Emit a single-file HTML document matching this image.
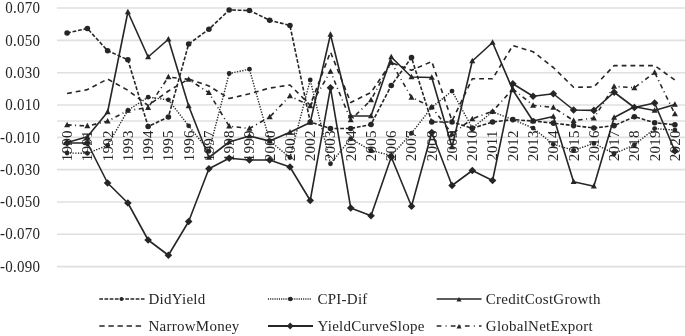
<!DOCTYPE html>
<html><head><meta charset="utf-8"><style>
html,body{margin:0;padding:0;background:#fff;}
body{width:685px;height:336px;overflow:hidden;position:relative;}
svg{position:absolute;left:0;top:0;filter:grayscale(1);}
text{font-family:"Liberation Serif",serif;fill:#262626;letter-spacing:0.25px;}
</style></head><body>
<svg width="685" height="336" viewBox="0 0 685 336">

<line x1="57" y1="8.05" x2="685" y2="8.05" stroke="#e0e0e0" stroke-width="1.6"/>
<line x1="57" y1="40.37" x2="685" y2="40.37" stroke="#e0e0e0" stroke-width="1.6"/>
<line x1="57" y1="72.69" x2="685" y2="72.69" stroke="#e0e0e0" stroke-width="1.6"/>
<line x1="57" y1="105.01" x2="685" y2="105.01" stroke="#e0e0e0" stroke-width="1.6"/>
<line x1="57" y1="137.33" x2="685" y2="137.33" stroke="#e0e0e0" stroke-width="1.6"/>
<line x1="57" y1="169.65" x2="685" y2="169.65" stroke="#e0e0e0" stroke-width="1.6"/>
<line x1="57" y1="201.97" x2="685" y2="201.97" stroke="#e0e0e0" stroke-width="1.6"/>
<line x1="57" y1="234.29" x2="685" y2="234.29" stroke="#e0e0e0" stroke-width="1.6"/>
<line x1="57" y1="266.61" x2="685" y2="266.61" stroke="#e0e0e0" stroke-width="1.6"/>
<line x1="57" y1="121.00" x2="685" y2="121.00" stroke="#e0e0e0" stroke-width="1.6"/>
<text transform="translate(40.3 13.25) scale(1 1.06)" font-size="15" text-anchor="end" letter-spacing="0.12">0.070</text>
<text transform="translate(40.3 45.57) scale(1 1.06)" font-size="15" text-anchor="end" letter-spacing="0.12">0.050</text>
<text transform="translate(40.3 77.89) scale(1 1.06)" font-size="15" text-anchor="end" letter-spacing="0.12">0.030</text>
<text transform="translate(40.3 110.21) scale(1 1.06)" font-size="15" text-anchor="end" letter-spacing="0.12">0.010</text>
<text transform="translate(40.3 142.53) scale(1 1.06)" font-size="15" text-anchor="end" letter-spacing="0.12">-0.010</text>
<text transform="translate(40.3 174.85) scale(1 1.06)" font-size="15" text-anchor="end" letter-spacing="0.12">-0.030</text>
<text transform="translate(40.3 207.17) scale(1 1.06)" font-size="15" text-anchor="end" letter-spacing="0.12">-0.050</text>
<text transform="translate(40.3 239.49) scale(1 1.06)" font-size="15" text-anchor="end" letter-spacing="0.12">-0.070</text>
<text transform="translate(40.3 271.81) scale(1 1.06)" font-size="15" text-anchor="end" letter-spacing="0.12">-0.090</text>
<text transform="translate(72.00 130.30) rotate(-90) scale(1 1.02)" font-size="15" text-anchor="end" letter-spacing="0">1990</text>
<text transform="translate(92.26 130.30) rotate(-90) scale(1 1.02)" font-size="15" text-anchor="end" letter-spacing="0">1991</text>
<text transform="translate(112.52 130.30) rotate(-90) scale(1 1.02)" font-size="15" text-anchor="end" letter-spacing="0">1992</text>
<text transform="translate(132.78 130.30) rotate(-90) scale(1 1.02)" font-size="15" text-anchor="end" letter-spacing="0">1993</text>
<text transform="translate(153.04 130.30) rotate(-90) scale(1 1.02)" font-size="15" text-anchor="end" letter-spacing="0">1994</text>
<text transform="translate(173.30 130.30) rotate(-90) scale(1 1.02)" font-size="15" text-anchor="end" letter-spacing="0">1995</text>
<text transform="translate(193.56 130.30) rotate(-90) scale(1 1.02)" font-size="15" text-anchor="end" letter-spacing="0">1996</text>
<text transform="translate(213.82 130.30) rotate(-90) scale(1 1.02)" font-size="15" text-anchor="end" letter-spacing="0">1997</text>
<text transform="translate(234.08 130.30) rotate(-90) scale(1 1.02)" font-size="15" text-anchor="end" letter-spacing="0">1998</text>
<text transform="translate(254.34 130.30) rotate(-90) scale(1 1.02)" font-size="15" text-anchor="end" letter-spacing="0">1999</text>
<text transform="translate(274.60 130.30) rotate(-90) scale(1 1.02)" font-size="15" text-anchor="end" letter-spacing="0">2000</text>
<text transform="translate(294.86 130.30) rotate(-90) scale(1 1.02)" font-size="15" text-anchor="end" letter-spacing="0">2001</text>
<text transform="translate(315.12 130.30) rotate(-90) scale(1 1.02)" font-size="15" text-anchor="end" letter-spacing="0">2002</text>
<text transform="translate(335.38 130.30) rotate(-90) scale(1 1.02)" font-size="15" text-anchor="end" letter-spacing="0">2003</text>
<text transform="translate(355.64 130.30) rotate(-90) scale(1 1.02)" font-size="15" text-anchor="end" letter-spacing="0">2004</text>
<text transform="translate(375.90 130.30) rotate(-90) scale(1 1.02)" font-size="15" text-anchor="end" letter-spacing="0">2005</text>
<text transform="translate(396.16 130.30) rotate(-90) scale(1 1.02)" font-size="15" text-anchor="end" letter-spacing="0">2006</text>
<text transform="translate(416.42 130.30) rotate(-90) scale(1 1.02)" font-size="15" text-anchor="end" letter-spacing="0">2007</text>
<text transform="translate(436.68 130.30) rotate(-90) scale(1 1.02)" font-size="15" text-anchor="end" letter-spacing="0">2008</text>
<text transform="translate(456.94 130.30) rotate(-90) scale(1 1.02)" font-size="15" text-anchor="end" letter-spacing="0">2009</text>
<text transform="translate(477.20 130.30) rotate(-90) scale(1 1.02)" font-size="15" text-anchor="end" letter-spacing="0">2010</text>
<text transform="translate(497.46 130.30) rotate(-90) scale(1 1.02)" font-size="15" text-anchor="end" letter-spacing="0">2011</text>
<text transform="translate(517.72 130.30) rotate(-90) scale(1 1.02)" font-size="15" text-anchor="end" letter-spacing="0">2012</text>
<text transform="translate(537.98 130.30) rotate(-90) scale(1 1.02)" font-size="15" text-anchor="end" letter-spacing="0">2013</text>
<text transform="translate(558.24 130.30) rotate(-90) scale(1 1.02)" font-size="15" text-anchor="end" letter-spacing="0">2014</text>
<text transform="translate(578.50 130.30) rotate(-90) scale(1 1.02)" font-size="15" text-anchor="end" letter-spacing="0">2015</text>
<text transform="translate(598.76 130.30) rotate(-90) scale(1 1.02)" font-size="15" text-anchor="end" letter-spacing="0">2016</text>
<text transform="translate(619.02 130.30) rotate(-90) scale(1 1.02)" font-size="15" text-anchor="end" letter-spacing="0">2017</text>
<text transform="translate(639.28 130.30) rotate(-90) scale(1 1.02)" font-size="15" text-anchor="end" letter-spacing="0">2018</text>
<text transform="translate(659.54 130.30) rotate(-90) scale(1 1.02)" font-size="15" text-anchor="end" letter-spacing="0">2019</text>
<text transform="translate(679.80 130.30) rotate(-90) scale(1 1.02)" font-size="15" text-anchor="end" letter-spacing="0">2020</text>
<polyline points="67.10,33.00 87.36,28.50 107.62,50.75 127.88,59.75 148.14,126.50 168.40,117.00 188.66,44.00 208.92,29.25 229.18,10.00 249.44,10.50 269.70,20.25 289.96,25.50 310.22,122.00 330.48,128.50 350.74,128.50 371.00,124.50 391.26,85.50 411.52,57.50 431.78,122.00 452.04,122.00 472.30,128.30 492.56,122.00 512.82,119.60 533.08,121.00 553.34,123.10 573.60,125.60 593.86,128.00 614.12,125.60 634.38,116.70 654.64,122.70 674.90,124.80" fill="none" stroke="#262626" stroke-width="1.60" stroke-linejoin="round" stroke-dasharray="3.8 1.8"/>
<g fill="#262626"><circle cx="67.10" cy="33.00" r="2.80"/><circle cx="87.36" cy="28.50" r="2.80"/><circle cx="107.62" cy="50.75" r="2.80"/><circle cx="127.88" cy="59.75" r="2.80"/><circle cx="148.14" cy="126.50" r="2.80"/><circle cx="168.40" cy="117.00" r="2.80"/><circle cx="188.66" cy="44.00" r="2.80"/><circle cx="208.92" cy="29.25" r="2.80"/><circle cx="229.18" cy="10.00" r="2.80"/><circle cx="249.44" cy="10.50" r="2.80"/><circle cx="269.70" cy="20.25" r="2.80"/><circle cx="289.96" cy="25.50" r="2.80"/><circle cx="310.22" cy="122.00" r="2.80"/><circle cx="330.48" cy="128.50" r="2.80"/><circle cx="350.74" cy="128.50" r="2.80"/><circle cx="371.00" cy="124.50" r="2.80"/><circle cx="391.26" cy="85.50" r="2.80"/><circle cx="411.52" cy="57.50" r="2.80"/><circle cx="431.78" cy="122.00" r="2.80"/><circle cx="452.04" cy="122.00" r="2.80"/><circle cx="472.30" cy="128.30" r="2.80"/><circle cx="492.56" cy="122.00" r="2.80"/><circle cx="512.82" cy="119.60" r="2.80"/><circle cx="533.08" cy="121.00" r="2.80"/><circle cx="553.34" cy="123.10" r="2.80"/><circle cx="573.60" cy="125.60" r="2.80"/><circle cx="593.86" cy="128.00" r="2.80"/><circle cx="614.12" cy="125.60" r="2.80"/><circle cx="634.38" cy="116.70" r="2.80"/><circle cx="654.64" cy="122.70" r="2.80"/><circle cx="674.90" cy="124.80" r="2.80"/></g>
<polyline points="67.10,153.00 87.36,153.30 107.62,145.30 127.88,110.30 148.14,97.20 168.40,99.80 188.66,125.80 208.92,151.25 229.18,73.50 249.44,69.20 269.70,141.00 289.96,157.50 310.22,80.00 330.48,163.75 350.74,138.75 371.00,150.50 391.26,155.50 411.52,133.25 431.78,107.30 452.04,91.10 472.30,128.00 492.56,111.80 512.82,119.60 533.08,128.10 553.34,144.30 573.60,150.30 593.86,143.40 614.12,153.75 634.38,144.90 654.64,128.60 674.90,130.10" fill="none" stroke="#262626" stroke-width="1.4" stroke-linejoin="round" stroke-dasharray="1.3 1.4"/>
<g fill="#262626"><circle cx="67.10" cy="153.00" r="2.40"/><circle cx="87.36" cy="153.30" r="2.40"/><circle cx="107.62" cy="145.30" r="2.40"/><circle cx="127.88" cy="110.30" r="2.40"/><circle cx="148.14" cy="97.20" r="2.40"/><circle cx="168.40" cy="99.80" r="2.40"/><circle cx="188.66" cy="125.80" r="2.40"/><circle cx="208.92" cy="151.25" r="2.40"/><circle cx="229.18" cy="73.50" r="2.40"/><circle cx="249.44" cy="69.20" r="2.40"/><circle cx="269.70" cy="141.00" r="2.40"/><circle cx="289.96" cy="157.50" r="2.40"/><circle cx="310.22" cy="80.00" r="2.40"/><circle cx="330.48" cy="163.75" r="2.40"/><circle cx="350.74" cy="138.75" r="2.40"/><circle cx="371.00" cy="150.50" r="2.40"/><circle cx="391.26" cy="155.50" r="2.40"/><circle cx="411.52" cy="133.25" r="2.40"/><circle cx="431.78" cy="107.30" r="2.40"/><circle cx="452.04" cy="91.10" r="2.40"/><circle cx="472.30" cy="128.00" r="2.40"/><circle cx="492.56" cy="111.80" r="2.40"/><circle cx="512.82" cy="119.60" r="2.40"/><circle cx="533.08" cy="128.10" r="2.40"/><circle cx="553.34" cy="144.30" r="2.40"/><circle cx="573.60" cy="150.30" r="2.40"/><circle cx="593.86" cy="143.40" r="2.40"/><circle cx="614.12" cy="153.75" r="2.40"/><circle cx="634.38" cy="144.90" r="2.40"/><circle cx="654.64" cy="128.60" r="2.40"/><circle cx="674.90" cy="130.10" r="2.40"/></g>
<polyline points="67.10,142.40 87.36,136.75 107.62,112.00 127.88,12.00 148.14,57.00 168.40,39.25 188.66,106.00 208.92,157.50 229.18,142.00 249.44,136.00 269.70,141.10 289.96,132.20 310.22,122.50 330.48,34.50 350.74,116.00 371.00,116.00 391.26,57.00 411.52,77.00 431.78,77.50 452.04,147.00 472.30,61.00 492.56,42.50 512.82,90.00 533.08,121.00 553.34,116.50 573.60,181.75 593.86,186.25 614.12,117.50 634.38,106.70 654.64,110.50 674.90,104.50" fill="none" stroke="#262626" stroke-width="1.60" stroke-linejoin="round"/>
<g fill="#262626"><path d="M67.10 139.25L70.10 144.76L64.10 144.76Z"/><path d="M87.36 133.60L90.36 139.11L84.36 139.11Z"/><path d="M107.62 108.85L110.62 114.36L104.62 114.36Z"/><path d="M127.88 8.85L130.88 14.36L124.88 14.36Z"/><path d="M148.14 53.85L151.14 59.36L145.14 59.36Z"/><path d="M168.40 36.10L171.40 41.61L165.40 41.61Z"/><path d="M188.66 102.85L191.66 108.36L185.66 108.36Z"/><path d="M208.92 154.35L211.92 159.86L205.92 159.86Z"/><path d="M229.18 138.85L232.18 144.36L226.18 144.36Z"/><path d="M249.44 132.85L252.44 138.36L246.44 138.36Z"/><path d="M269.70 137.95L272.70 143.46L266.70 143.46Z"/><path d="M289.96 129.05L292.96 134.56L286.96 134.56Z"/><path d="M310.22 119.35L313.22 124.86L307.22 124.86Z"/><path d="M330.48 31.35L333.48 36.86L327.48 36.86Z"/><path d="M350.74 112.85L353.74 118.36L347.74 118.36Z"/><path d="M371.00 112.85L374.00 118.36L368.00 118.36Z"/><path d="M391.26 53.85L394.26 59.36L388.26 59.36Z"/><path d="M411.52 73.85L414.52 79.36L408.52 79.36Z"/><path d="M431.78 74.35L434.78 79.86L428.78 79.86Z"/><path d="M452.04 143.85L455.04 149.36L449.04 149.36Z"/><path d="M472.30 57.85L475.30 63.36L469.30 63.36Z"/><path d="M492.56 39.35L495.56 44.86L489.56 44.86Z"/><path d="M512.82 86.85L515.82 92.36L509.82 92.36Z"/><path d="M533.08 117.85L536.08 123.36L530.08 123.36Z"/><path d="M553.34 113.35L556.34 118.86L550.34 118.86Z"/><path d="M573.60 178.60L576.60 184.11L570.60 184.11Z"/><path d="M593.86 183.10L596.86 188.61L590.86 188.61Z"/><path d="M614.12 114.35L617.12 119.86L611.12 119.86Z"/><path d="M634.38 103.55L637.38 109.06L631.38 109.06Z"/><path d="M654.64 107.35L657.64 112.86L651.64 112.86Z"/><path d="M674.90 101.35L677.90 106.86L671.90 106.86Z"/></g>
<polyline points="67.10,93.50 87.36,89.60 107.62,79.00 127.88,90.30 148.14,105.50 168.40,91.00 188.66,79.00 208.92,86.00 229.18,98.50 249.44,93.75 269.70,88.10 289.96,85.00 310.22,105.20 330.48,52.00 350.74,102.50 371.00,92.50 391.26,62.50 411.52,70.30 431.78,61.50 452.04,121.00 472.30,78.75 492.56,78.75 512.82,45.50 533.08,51.75 553.34,67.50 573.60,87.30 593.86,87.00 614.12,65.60 634.38,65.60 654.64,65.60 674.90,80.00" fill="none" stroke="#262626" stroke-width="1.60" stroke-linejoin="round" stroke-dasharray="4.8 4"/>
<polyline points="67.10,143.00 87.36,143.00 107.62,183.00 127.88,203.00 148.14,240.00 168.40,255.25 188.66,221.50 208.92,168.75 229.18,158.25 249.44,160.00 269.70,160.00 289.96,167.00 310.22,200.50 330.48,87.80 350.74,208.00 371.00,215.75 391.26,157.00 411.52,206.25 431.78,132.50 452.04,185.50 472.30,170.50 492.56,180.50 512.82,83.75 533.08,96.25 553.34,93.75 573.60,110.00 593.86,110.40 614.12,92.25 634.38,107.50 654.64,103.00 674.90,151.00" fill="none" stroke="#262626" stroke-width="1.60" stroke-linejoin="round"/>
<g fill="#262626"><path d="M67.10 139.20L70.90 143.00L67.10 146.80L63.30 143.00Z"/><path d="M87.36 139.20L91.16 143.00L87.36 146.80L83.56 143.00Z"/><path d="M107.62 179.20L111.42 183.00L107.62 186.80L103.82 183.00Z"/><path d="M127.88 199.20L131.68 203.00L127.88 206.80L124.08 203.00Z"/><path d="M148.14 236.20L151.94 240.00L148.14 243.80L144.34 240.00Z"/><path d="M168.40 251.45L172.20 255.25L168.40 259.05L164.60 255.25Z"/><path d="M188.66 217.70L192.46 221.50L188.66 225.30L184.86 221.50Z"/><path d="M208.92 164.95L212.72 168.75L208.92 172.55L205.12 168.75Z"/><path d="M229.18 154.45L232.98 158.25L229.18 162.05L225.38 158.25Z"/><path d="M249.44 156.20L253.24 160.00L249.44 163.80L245.64 160.00Z"/><path d="M269.70 156.20L273.50 160.00L269.70 163.80L265.90 160.00Z"/><path d="M289.96 163.20L293.76 167.00L289.96 170.80L286.16 167.00Z"/><path d="M310.22 196.70L314.02 200.50L310.22 204.30L306.42 200.50Z"/><path d="M330.48 84.00L334.28 87.80L330.48 91.60L326.68 87.80Z"/><path d="M350.74 204.20L354.54 208.00L350.74 211.80L346.94 208.00Z"/><path d="M371.00 211.95L374.80 215.75L371.00 219.55L367.20 215.75Z"/><path d="M391.26 153.20L395.06 157.00L391.26 160.80L387.46 157.00Z"/><path d="M411.52 202.45L415.32 206.25L411.52 210.05L407.72 206.25Z"/><path d="M431.78 128.70L435.58 132.50L431.78 136.30L427.98 132.50Z"/><path d="M452.04 181.70L455.84 185.50L452.04 189.30L448.24 185.50Z"/><path d="M472.30 166.70L476.10 170.50L472.30 174.30L468.50 170.50Z"/><path d="M492.56 176.70L496.36 180.50L492.56 184.30L488.76 180.50Z"/><path d="M512.82 79.95L516.62 83.75L512.82 87.55L509.02 83.75Z"/><path d="M533.08 92.45L536.88 96.25L533.08 100.05L529.28 96.25Z"/><path d="M553.34 89.95L557.14 93.75L553.34 97.55L549.54 93.75Z"/><path d="M573.60 106.20L577.40 110.00L573.60 113.80L569.80 110.00Z"/><path d="M593.86 106.60L597.66 110.40L593.86 114.20L590.06 110.40Z"/><path d="M614.12 88.45L617.92 92.25L614.12 96.05L610.32 92.25Z"/><path d="M634.38 103.70L638.18 107.50L634.38 111.30L630.58 107.50Z"/><path d="M654.64 99.20L658.44 103.00L654.64 106.80L650.84 103.00Z"/><path d="M674.90 147.20L678.70 151.00L674.90 154.80L671.10 151.00Z"/></g>
<polyline points="67.10,124.90 87.36,126.00 107.62,121.25 127.88,110.50 148.14,107.60 168.40,77.00 188.66,79.40 208.92,92.75 229.18,126.25 249.44,128.50 269.70,117.00 289.96,96.00 310.22,105.80 330.48,71.50 350.74,120.00 371.00,100.00 391.26,62.50 411.52,97.30 431.78,107.00 452.04,134.00 472.30,118.80 492.56,111.30 512.82,89.00 533.08,105.30 553.34,107.50 573.60,120.60 593.86,118.10 614.12,86.30 634.38,87.80 654.64,72.40 674.90,114.00" fill="none" stroke="#262626" stroke-width="1.60" stroke-linejoin="round" stroke-dasharray="4.5 3.5 1 3.5"/>
<g fill="#262626"><path d="M67.10 121.75L70.10 127.26L64.10 127.26Z"/><path d="M87.36 122.85L90.36 128.36L84.36 128.36Z"/><path d="M107.62 118.10L110.62 123.61L104.62 123.61Z"/><path d="M127.88 107.35L130.88 112.86L124.88 112.86Z"/><path d="M148.14 104.45L151.14 109.96L145.14 109.96Z"/><path d="M168.40 73.85L171.40 79.36L165.40 79.36Z"/><path d="M188.66 76.25L191.66 81.76L185.66 81.76Z"/><path d="M208.92 89.60L211.92 95.11L205.92 95.11Z"/><path d="M229.18 123.10L232.18 128.61L226.18 128.61Z"/><path d="M249.44 125.35L252.44 130.86L246.44 130.86Z"/><path d="M269.70 113.85L272.70 119.36L266.70 119.36Z"/><path d="M289.96 92.85L292.96 98.36L286.96 98.36Z"/><path d="M310.22 102.65L313.22 108.16L307.22 108.16Z"/><path d="M330.48 68.35L333.48 73.86L327.48 73.86Z"/><path d="M350.74 116.85L353.74 122.36L347.74 122.36Z"/><path d="M371.00 96.85L374.00 102.36L368.00 102.36Z"/><path d="M391.26 59.35L394.26 64.86L388.26 64.86Z"/><path d="M411.52 94.15L414.52 99.66L408.52 99.66Z"/><path d="M431.78 103.85L434.78 109.36L428.78 109.36Z"/><path d="M452.04 130.85L455.04 136.36L449.04 136.36Z"/><path d="M472.30 115.65L475.30 121.16L469.30 121.16Z"/><path d="M492.56 108.15L495.56 113.66L489.56 113.66Z"/><path d="M512.82 85.85L515.82 91.36L509.82 91.36Z"/><path d="M533.08 102.15L536.08 107.66L530.08 107.66Z"/><path d="M553.34 104.35L556.34 109.86L550.34 109.86Z"/><path d="M573.60 117.45L576.60 122.96L570.60 122.96Z"/><path d="M593.86 114.95L596.86 120.46L590.86 120.46Z"/><path d="M614.12 83.15L617.12 88.66L611.12 88.66Z"/><path d="M634.38 84.65L637.38 90.16L631.38 90.16Z"/><path d="M654.64 69.25L657.64 74.76L651.64 74.76Z"/><path d="M674.90 110.85L677.90 116.36L671.90 116.36Z"/></g>
<line x1="99.3" y1="299.0" x2="144.5" y2="299.0" stroke="#262626" stroke-width="1.60" stroke-dasharray="3.7 1.5"/>
<g fill="#262626"><circle cx="121.50" cy="299.00" r="2.00"/></g>
<text x="148.5" y="304.2" font-size="15">DidYield</text>
<line x1="99.3" y1="326.0" x2="141.2" y2="326.0" stroke="#262626" stroke-width="1.60" stroke-dasharray="5.4 3.7"/>
<text x="148.5" y="331.2" font-size="15">NarrowMoney</text>
<line x1="267.9" y1="299.0" x2="311.0" y2="299.0" stroke="#262626" stroke-width="1.50" stroke-dasharray="1.1 1.1"/>
<g fill="#262626"><circle cx="290.30" cy="299.00" r="2.35"/></g>
<text x="317.5" y="304.2" font-size="15">CPI-Dif</text>
<line x1="268.0" y1="326.0" x2="313.0" y2="326.0" stroke="#262626" stroke-width="1.80"/>
<g fill="#262626"><path d="M290.20 322.60L293.60 326.00L290.20 329.40L286.80 326.00Z"/></g>
<text x="317.5" y="331.2" font-size="15">YieldCurveSlope</text>
<line x1="436.7" y1="299.0" x2="481.5" y2="299.0" stroke="#262626" stroke-width="1.50"/>
<g fill="#262626"><path d="M459.00 296.88L461.50 301.47L456.50 301.47Z"/></g>
<text x="485.8" y="304.2" font-size="15">CreditCostGrowth</text>
<line x1="436.7" y1="326.0" x2="481.5" y2="326.0" stroke="#262626" stroke-width="1.60" stroke-dasharray="4.7 4.2 1 4.2"/>
<g fill="#262626"><path d="M459.00 323.88L461.50 328.47L456.50 328.47Z"/></g>
<text x="485.8" y="331.2" font-size="15">GlobalNetExport</text>
</svg>
</body></html>
